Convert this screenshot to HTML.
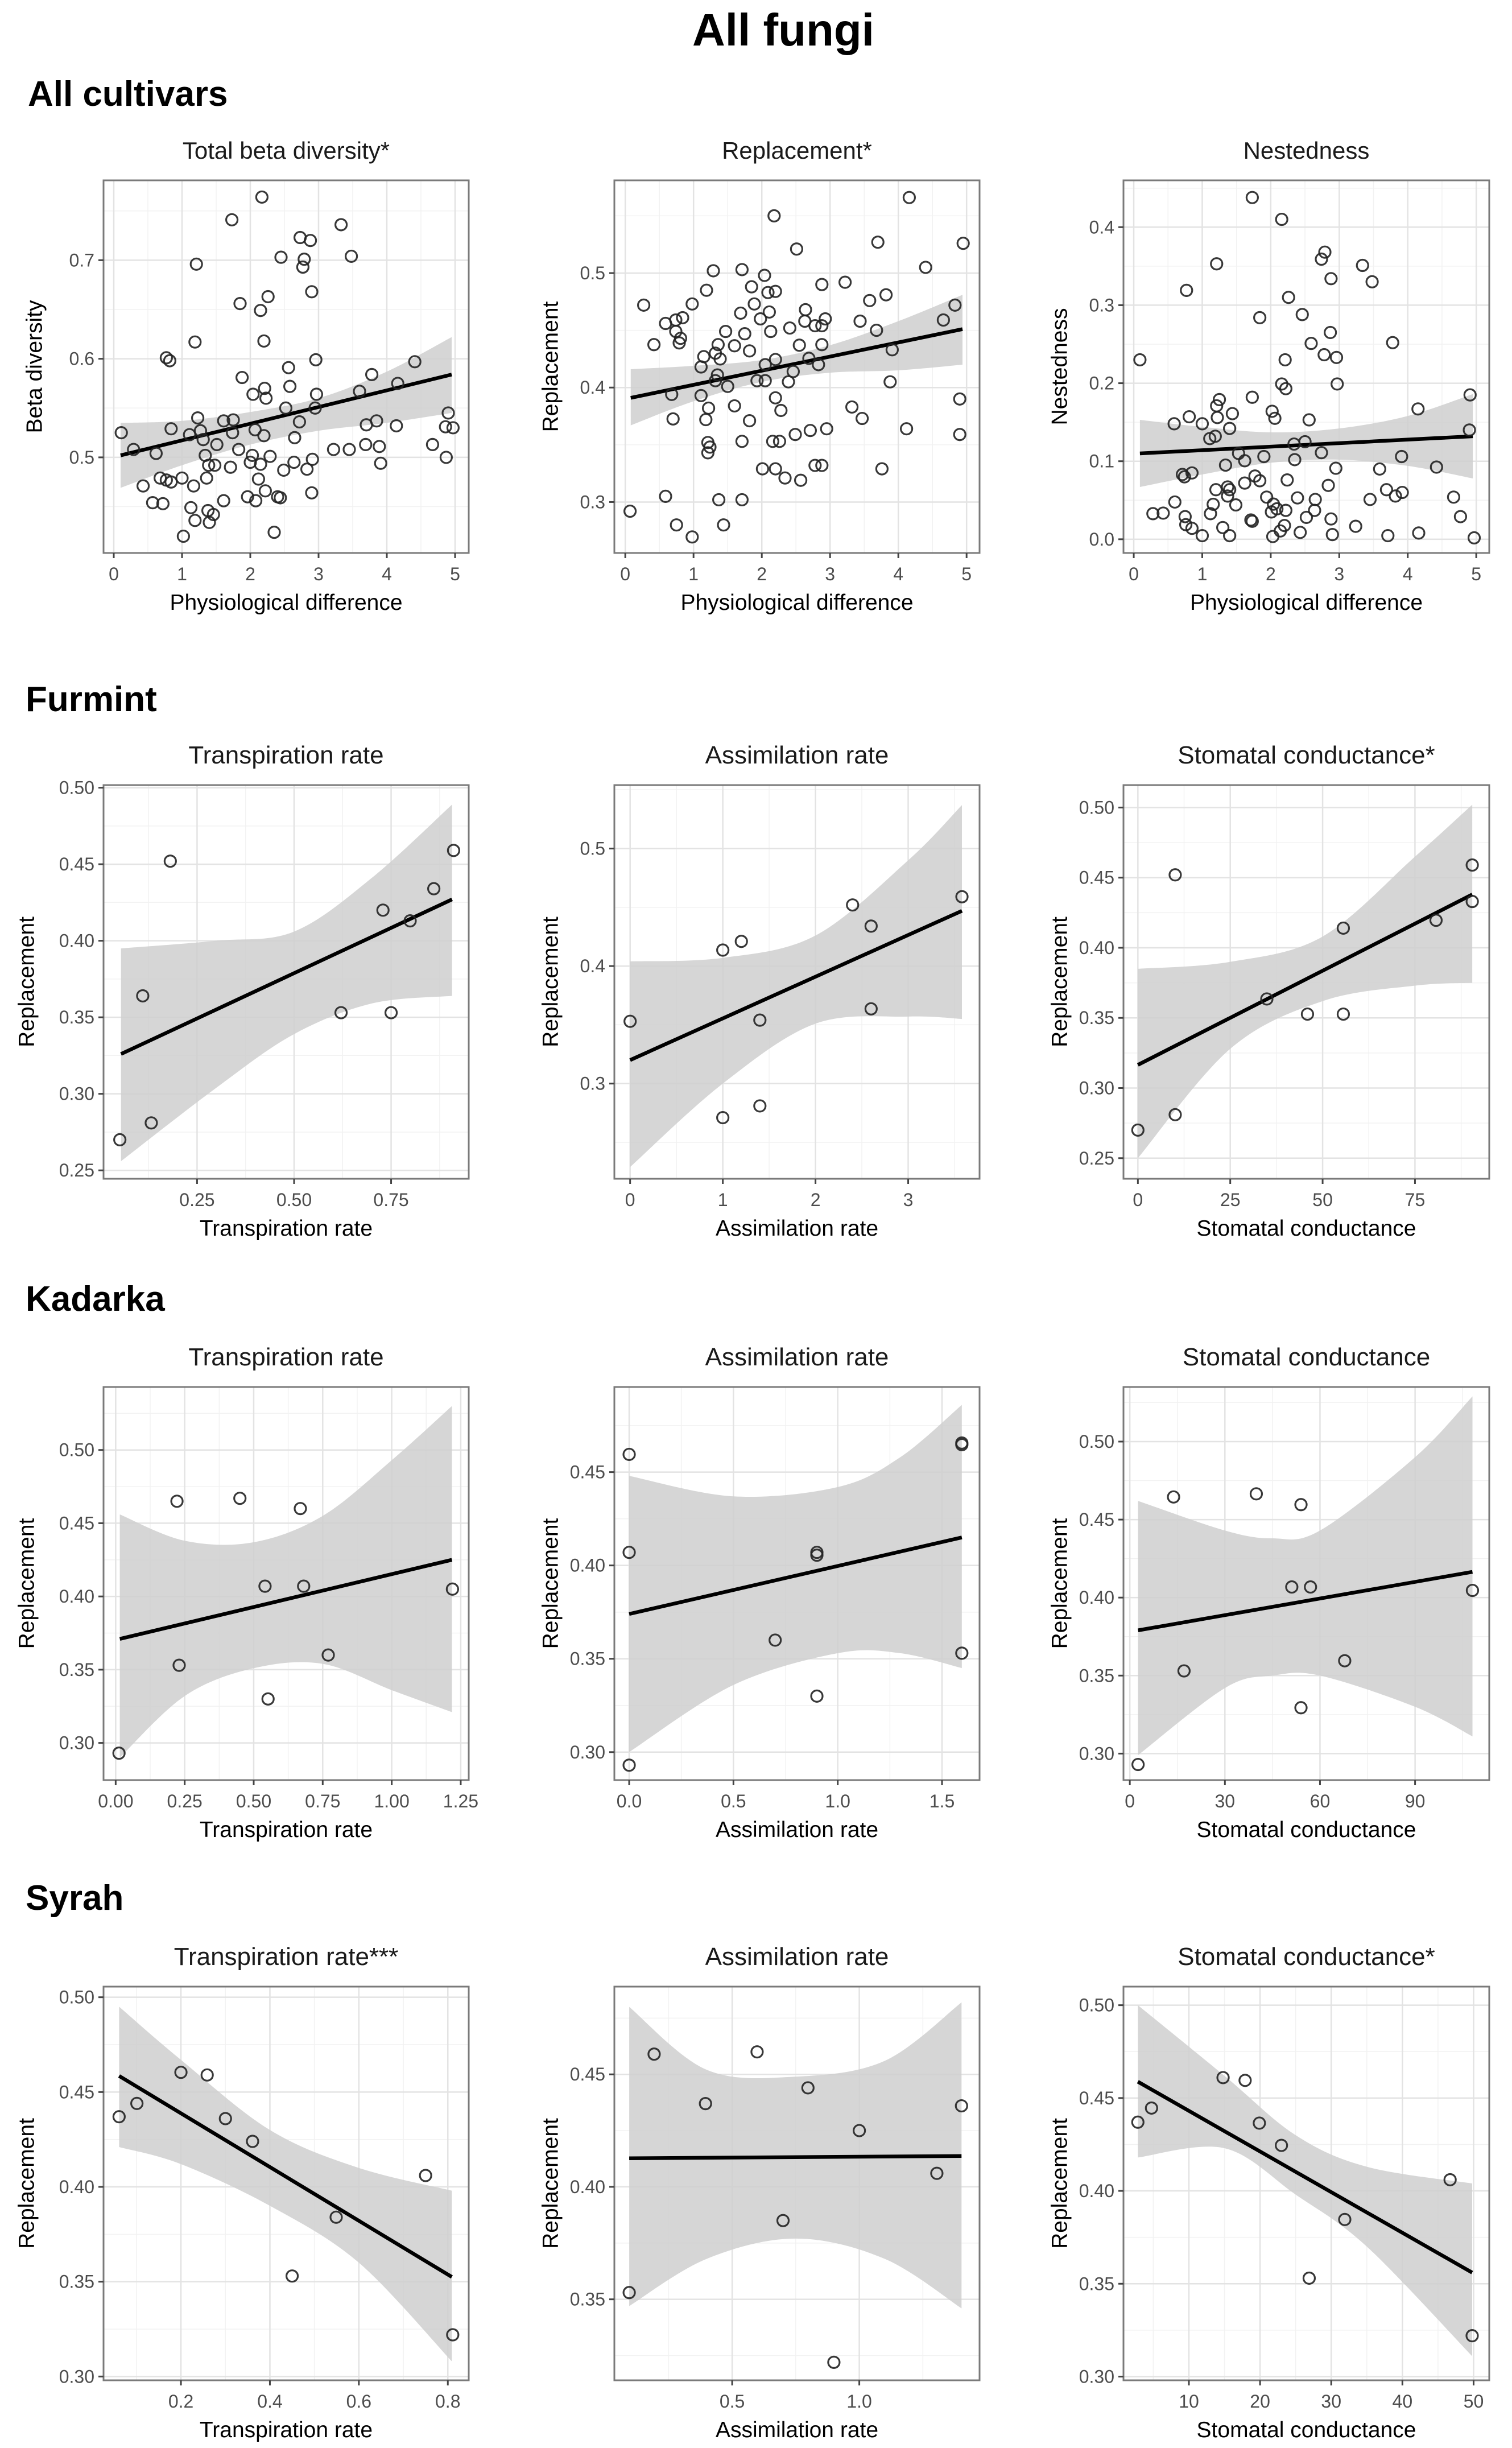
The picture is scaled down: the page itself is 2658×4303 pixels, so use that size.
<!DOCTYPE html>
<html><head><meta charset="utf-8">
<style>
html,body{margin:0;padding:0;background:#fff;}
svg{display:block;font-family:"Liberation Sans",Arial,sans-serif;}
</style></head>
<body>
<svg id="fig" xmlns="http://www.w3.org/2000/svg" width="2658" height="4303" viewBox="0 0 2658 4303">
<rect x="0" y="0" width="2658" height="4303" fill="#fff"/>
<text x="1377" y="80" text-anchor="middle" font-size="80" font-weight="bold" fill="#000">All fungi</text>
<text x="49" y="186" font-size="62" font-weight="bold" fill="#000">All cultivars</text>
<text x="45" y="1250" font-size="62" font-weight="bold" fill="#000">Furmint</text>
<text x="45" y="2304" font-size="62" font-weight="bold" fill="#000">Kadarka</text>
<text x="45" y="3357" font-size="62" font-weight="bold" fill="#000">Syrah</text>
</svg>
<script>
// ---------- All cultivars: total beta diversity ----------
const p1X = [2.17,1.73,3.33,2.73,2.88,2.45,3.48,1.21,2.79,2.77,2.90,2.26,1.85,2.15,1.19,2.20,0.77,0.82,2.96,4.41,2.56,1.88,3.78,2.58,2.21,2.04,2.23,2.97,3.60,4.16,2.52,2.95,4.90,1.23,1.61,1.75,2.72,3.70,3.85,4.14,4.86,4.97,0.11,0.84,1.11,1.27,1.74,2.07,2.20,2.65,1.31,1.51,0.29,1.83,3.22,3.45,3.69,3.89,4.67,0.62,1.34,2.03,2.29,4.87,2.91,2.00,2.15,1.39,1.48,2.64,3.91,1.71,2.49,2.83,0.68,0.77,0.84,1.00,1.36,2.12,0.43,1.17,2.22,2.90,1.61,0.57,0.72,1.96,2.08,2.40,2.44,1.13,1.19,1.38,1.46,1.40,1.02,2.35];
const p1Y = [.764,.741,.736,.723,.720,.703,.704,.696,.701,.693,.668,.663,.656,.649,.617,.618,.601,.598,.599,.597,.591,.581,.584,.572,.570,.564,.560,.564,.567,.575,.550,.550,.545,.540,.537,.538,.536,.533,.537,.532,.531,.530,.525,.529,.523,.527,.525,.528,.522,.520,.518,.513,.508,.508,.508,.508,.513,.511,.513,.504,.502,.502,.501,.500,.498,.495,.493,.492,.492,.495,.494,.490,.487,.488,.479,.477,.475,.479,.479,.478,.471,.471,.466,.464,.456,.454,.453,.460,.456,.460,.459,.449,.436,.446,.442,.434,.420,.424];
const p1FitX = [0.1,4.95];
const p1FitY = [0.502,0.584];
const p1BandX = [0.1,1,2,3,4,4.95];
const p1BandLo = [0.469,0.492,0.513,0.527,0.535,0.545];
const p1BandHi = [0.535,0.537,0.546,0.560,0.587,0.622];
const p1XTicks = [0,1,2,3,4,5];
const p1XLabels = ["0","1","2","3","4","5"];
const p1YTicks = [0.5,0.6,0.7];
const p1YLabels = ["0.5","0.6","0.7"];

// ---------- All cultivars: replacement ----------
const p2X = [2.18,4.16,2.51,3.70,4.95,4.40,1.29,1.71,2.04,2.88,3.22,1.85,1.19,2.09,2.20,0.27,0.98,1.89,3.58,3.82,4.83,0.59,0.74,0.84,1.69,2.11,2.64,1.98,2.63,2.78,2.88,2.93,3.44,4.66,0.74,1.47,1.75,2.13,2.41,3.68,0.42,0.81,0.79,1.36,1.60,1.82,2.55,2.88,3.91,1.15,1.32,1.39,2.20,2.69,2.05,2.83,1.11,1.35,2.46,1.32,1.50,1.93,2.05,2.39,3.88,0.68,1.11,1.22,1.60,2.20,2.28,3.32,4.90,0.70,1.18,1.82,3.47,2.49,2.71,2.95,4.12,4.90,1.21,1.24,1.21,1.71,2.16,2.26,2.01,2.20,2.34,2.57,2.78,2.88,3.76,0.59,1.37,1.71,0.07,0.75,1.44,0.98];
const p2Y = [.550,.566,.521,.527,.526,.505,.502,.503,.498,.490,.492,.488,.485,.483,.484,.472,.473,.473,.476,.481,.472,.456,.459,.461,.465,.466,.468,.460,.458,.454,.454,.460,.458,.459,.449,.449,.447,.449,.452,.450,.4375,.443,.439,.4375,.4365,.432,.437,.4375,.433,.427,.430,.425,.4245,.4255,.420,.420,.418,.411,.414,.406,.401,.406,.406,.405,.405,.394,.393,.382,.384,.391,.380,.383,.390,.3726,.372,.371,.373,.359,.3625,.364,.364,.359,.352,.348,.343,.353,.353,.353,.329,.329,.321,.319,.332,.332,.329,.305,.302,.302,.292,.280,.280,.2695];
const p2FitX = [0.08,4.94];
const p2FitY = [0.391,0.451];
const p2BandX = [0.08,1,2,3,4,4.94];
const p2BandLo = [0.367,0.388,0.405,0.413,0.415,0.420];
const p2BandHi = [0.416,0.419,0.424,0.437,0.458,0.481];
const p2XTicks = [0,1,2,3,4,5];
const p2XLabels = ["0","1","2","3","4","5"];
const p2YTicks = [0.3,0.4,0.5];
const p2YLabels = ["0.3","0.4","0.5"];

// ---------- All cultivars: nestedness ----------
const p3X = [1.73,2.16,1.21,2.74,2.79,3.34,3.48,2.88,0.77,2.26,2.46,1.84,2.87,3.78,2.59,2.78,2.96,0.09,2.21,2.97,2.16,2.22,4.91,1.73,1.25,1.21,4.15,2.02,1.44,0.81,1.22,2.06,0.59,1.00,2.56,1.40,4.90,1.11,1.19,2.34,2.50,1.53,2.74,1.90,3.91,1.62,2.35,1.34,2.95,3.59,4.42,0.71,0.74,0.85,1.77,1.84,2.24,1.62,1.37,1.40,2.84,1.20,3.69,3.82,3.92,1.37,1.49,0.60,1.16,2.39,2.65,1.94,3.45,4.67,0.28,0.43,1.12,0.75,2.04,2.09,2.01,2.22,2.64,2.52,1.71,1.73,2.88,4.77,0.76,0.85,1.30,2.20,2.14,3.24,1.00,1.40,2.03,2.43,2.90,3.71,4.16,4.97];
const p3Y = [.438,.410,.353,.359,.368,.351,.330,.334,.319,.310,.288,.284,.265,.252,.251,.2365,.233,.230,.230,.199,.199,.193,.185,.182,.179,.171,.167,.164,.161,.157,.156,.155,.148,.148,.153,.142,.140,.129,.132,.122,.125,.110,.111,.106,.106,.1006,.102,.095,.091,.090,.0925,.083,.080,.085,.081,.075,.076,.072,.067,.0635,.069,.0635,.0635,.0554,.060,.0554,.044,.0477,.0448,.053,.051,.054,.051,.054,.0328,.0335,.0328,.029,.045,.039,.035,.037,.037,.028,.0247,.023,.026,.029,.0187,.014,.015,.0176,.0106,.0166,.0046,.0046,.0035,.0088,.006,.0046,.008,.0018];
const p3FitX = [0.09,4.95];
const p3FitY = [0.110,0.132];
const p3BandX = [0.09,1,2,3,4,4.95];
const p3BandLo = [0.067,0.083,0.098,0.102,0.094,0.078];
const p3BandHi = [0.153,0.144,0.137,0.142,0.158,0.186];
const p3XTicks = [0,1,2,3,4,5];
const p3XLabels = ["0","1","2","3","4","5"];
const p3YTicks = [0,0.1,0.2,0.3,0.4];
const p3YLabels = ["0.0","0.1","0.2","0.3","0.4"];

// ---------- Furmint ----------
const f1X = [0.051,0.132,0.110,0.181,0.621,0.750,0.729,0.799,0.860,0.911];
const f1Y = [0.270,0.281,0.364,0.452,0.353,0.353,0.420,0.413,0.434,0.459];
const f1FitX = [0.054,0.907];
const f1FitY = [0.326,0.427];
const f1BandX = [0.054,0.3,0.5,0.7,0.907];
const f1BandLo = [0.256,0.304,0.339,0.359,0.364];
const f1BandHi = [0.395,0.400,0.406,0.441,0.489];
const f1XTicks = [0.25,0.5,0.75];
const f1XLabels = ["0.25","0.50","0.75"];
const f1YTicks = [0.25,0.30,0.35,0.40,0.45,0.50];
const f1YLabels = ["0.25","0.30","0.35","0.40","0.45","0.50"];

const f2X = [0,1.0,1.2,1.4,1.0,1.4,2.4,2.6,2.6,3.58];
const f2Y = [0.353,0.4136,0.421,0.354,0.271,0.281,0.452,0.434,0.3636,0.459];
const f2FitX = [0,3.58];
const f2FitY = [0.320,0.447];
const f2BandX = [0,1,2,3,3.58];
const f2BandLo = [0.229,0.300,0.351,0.357,0.355];
const f2BandHi = [0.404,0.407,0.426,0.490,0.537];
const f2XTicks = [0,1,2,3];
const f2XLabels = ["0","1","2","3"];
const f2YTicks = [0.3,0.4,0.5];
const f2YLabels = ["0.3","0.4","0.5"];

const f3X = [0,10.1,10.1,34.9,45.9,55.6,55.6,80.7,90.5,90.5];
const f3Y = [0.270,0.281,0.452,0.3635,0.3527,0.3527,0.414,0.4196,0.459,0.433];
const f3FitX = [0,90.5];
const f3FitY = [0.3165,0.438];
const f3BandX = [0,25,50,75,90.5];
const f3BandLo = [0.250,0.328,0.362,0.373,0.375];
const f3BandHi = [0.385,0.390,0.408,0.465,0.502];
const f3XTicks = [0,25,50,75];
const f3XLabels = ["0","25","50","75"];
const f3YTicks = [0.25,0.30,0.35,0.40,0.45,0.50];
const f3YLabels = ["0.25","0.30","0.35","0.40","0.45","0.50"];

// ---------- Kadarka ----------
const k1X = [0.012,0.222,0.23,0.45,0.541,0.552,0.669,0.681,0.77,1.22];
const k1Y = [0.293,0.465,0.353,0.467,0.407,0.330,0.460,0.407,0.360,0.405];
const k1FitX = [0.015,1.218];
const k1FitY = [0.371,0.425];
const k1BandX = [0.015,0.25,0.5,0.75,1.0,1.218];
const k1BandLo = [0.290,0.332,0.351,0.354,0.336,0.321];
const k1BandHi = [0.456,0.438,0.437,0.455,0.493,0.530];
const k1XTicks = [0,0.25,0.5,0.75,1.0,1.25];
const k1XLabels = ["0.00","0.25","0.50","0.75","1.00","1.25"];
const k1YTicks = [0.30,0.35,0.40,0.45,0.50];
const k1YLabels = ["0.30","0.35","0.40","0.45","0.50"];

const k2X = [0,0,0.9,0.9,0.70,0.9,1.595,1.595,1.595,0];
const k2Y = [0.4595,0.407,0.407,0.4055,0.360,0.330,0.4656,0.4647,0.353,0.293];
const k2FitX = [0,1.595];
const k2FitY = [0.374,0.415];
const k2BandX = [0,0.5,1.0,1.3,1.595];
const k2BandLo = [0.300,0.336,0.353,0.353,0.345];
const k2BandHi = [0.448,0.437,0.442,0.458,0.486];
const k2XTicks = [0,0.5,1.0,1.5];
const k2XLabels = ["0.0","0.5","1.0","1.5"];
const k2YTicks = [0.30,0.35,0.40,0.45];
const k2YLabels = ["0.30","0.35","0.40","0.45"];

const k3X = [2.6,13.8,17.1,39.9,54.0,51.1,57.0,67.8,54.0,108.1];
const k3Y = [0.293,0.4645,0.353,0.4665,0.4596,0.4068,0.4068,0.3595,0.3294,0.4046];
const k3FitX = [2.6,108.1];
const k3FitY = [0.379,0.4165];
const k3BandX = [2.6,30,45,60,90,108.1];
const k3BandLo = [0.299,0.342,0.350,0.350,0.330,0.311];
const k3BandHi = [0.462,0.443,0.438,0.443,0.490,0.529];
const k3XTicks = [0,30,60,90];
const k3XLabels = ["0","30","60","90"];
const k3YTicks = [0.30,0.35,0.40,0.45,0.50];
const k3YLabels = ["0.30","0.35","0.40","0.45","0.50"];

// ---------- Syrah ----------
const s1X = [0.061,0.101,0.2,0.259,0.30,0.361,0.45,0.549,0.750,0.811];
const s1Y = [0.437,0.444,0.4604,0.459,0.436,0.424,0.353,0.384,0.406,0.322];
const s1FitX = [0.061,0.809];
const s1FitY = [0.4585,0.3525];
const s1BandX = [0.061,0.2,0.4,0.6,0.809];
const s1BandLo = [0.421,0.412,0.390,0.360,0.308];
const s1BandHi = [0.495,0.467,0.430,0.410,0.398];
const s1XTicks = [0.2,0.4,0.6,0.8];
const s1XLabels = ["0.2","0.4","0.6","0.8"];
const s1YTicks = [0.30,0.35,0.40,0.45,0.50];
const s1YLabels = ["0.30","0.35","0.40","0.45","0.50"];

const s2X = [0.095,0.193,0.395,0.598,0.70,0.798,0.90,1.0,1.305,1.402];
const s2Y = [0.353,0.459,0.437,0.460,0.385,0.444,0.322,0.425,0.406,0.436];
const s2FitX = [0.095,1.402];
const s2FitY = [0.4127,0.4137];
const s2BandX = [0.095,0.4,0.75,1.1,1.402];
const s2BandLo = [0.347,0.368,0.377,0.368,0.346];
const s2BandHi = [0.480,0.452,0.449,0.456,0.482];
const s2XTicks = [0.5,1.0];
const s2XLabels = ["0.5","1.0"];
const s2YTicks = [0.35,0.40,0.45];
const s2YLabels = ["0.35","0.40","0.45"];

const s3X = [2.83,4.75,14.8,17.9,19.9,23.0,26.9,31.9,46.7,49.8];
const s3Y = [0.437,0.4446,0.461,0.4595,0.4365,0.4245,0.353,0.3846,0.406,0.322];
const s3FitX = [2.83,49.8];
const s3FitY = [0.4588,0.3560];
const s3BandX = [2.83,15,25,35,49.8];
const s3BandLo = [0.418,0.423,0.398,0.370,0.311];
const s3BandHi = [0.500,0.462,0.430,0.413,0.404];
const s3XTicks = [10,20,30,40,50];
const s3XLabels = ["10","20","30","40","50"];
const s3YTicks = [0.30,0.35,0.40,0.45,0.50];
const s3YLabels = ["0.30","0.35","0.40","0.45","0.50"];

// ---------- layout ----------
const ROWS = [{t:317,b:972},{t:1380,b:2072},{t:2438,b:3129},{t:3492,b:4184}];
const COLS = [{l:182,r:824,yt:46},{l:1080,r:1722,yt:967},{l:1975,r:2618,yt:1862}];

const panels = [
 {id:"total-beta",row:0,col:0,title:"Total beta diversity*",xt:"Physiological difference",yt:"Beta diversity",xlim:[-0.15,5.2],ylim:[0.403,0.781],X:p1X,Y:p1Y,fx:p1FitX,fy:p1FitY,bx:p1BandX,blo:p1BandLo,bhi:p1BandHi,xtk:p1XTicks,xl:p1XLabels,ytk:p1YTicks,yl:p1YLabels},
 {id:"replacement-all",row:0,col:1,title:"Replacement*",xt:"Physiological difference",yt:"Replacement",xlim:[-0.16,5.19],ylim:[0.2555,0.581],X:p2X,Y:p2Y,fx:p2FitX,fy:p2FitY,bx:p2BandX,blo:p2BandLo,bhi:p2BandHi,xtk:p2XTicks,xl:p2XLabels,ytk:p2YTicks,yl:p2YLabels},
 {id:"nestedness-all",row:0,col:2,title:"Nestedness",xt:"Physiological difference",yt:"Nestedness",xlim:[-0.15,5.19],ylim:[-0.0176,0.46],X:p3X,Y:p3Y,fx:p3FitX,fy:p3FitY,bx:p3BandX,blo:p3BandLo,bhi:p3BandHi,xtk:p3XTicks,xl:p3XLabels,ytk:p3YTicks,yl:p3YLabels},
 {id:"furmint-transpiration",row:1,col:0,title:"Transpiration rate",xt:"Transpiration rate",yt:"Replacement",xlim:[0.009,0.950],ylim:[0.2445,0.5017],X:f1X,Y:f1Y,fx:f1FitX,fy:f1FitY,bx:f1BandX,blo:f1BandLo,bhi:f1BandHi,xtk:f1XTicks,xl:f1XLabels,ytk:f1YTicks,yl:f1YLabels},
 {id:"furmint-assimilation",row:1,col:1,title:"Assimilation rate",xt:"Assimilation rate",yt:"Replacement",xlim:[-0.17,3.77],ylim:[0.219,0.554],X:f2X,Y:f2Y,fx:f2FitX,fy:f2FitY,bx:f2BandX,blo:f2BandLo,bhi:f2BandHi,xtk:f2XTicks,xl:f2XLabels,ytk:f2YTicks,yl:f2YLabels},
 {id:"furmint-stomatal",row:1,col:2,title:"Stomatal conductance*",xt:"Stomatal conductance",yt:"Replacement",xlim:[-3.9,95.1],ylim:[0.2353,0.516],X:f3X,Y:f3Y,fx:f3FitX,fy:f3FitY,bx:f3BandX,blo:f3BandLo,bhi:f3BandHi,xtk:f3XTicks,xl:f3XLabels,ytk:f3YTicks,yl:f3YLabels},
 {id:"kadarka-transpiration",row:2,col:0,title:"Transpiration rate",xt:"Transpiration rate",yt:"Replacement",xlim:[-0.044,1.279],ylim:[0.2746,0.543],X:k1X,Y:k1Y,fx:k1FitX,fy:k1FitY,bx:k1BandX,blo:k1BandLo,bhi:k1BandHi,xtk:k1XTicks,xl:k1XLabels,ytk:k1YTicks,yl:k1YLabels},
 {id:"kadarka-assimilation",row:2,col:1,title:"Assimilation rate",xt:"Assimilation rate",yt:"Replacement",xlim:[-0.071,1.68],ylim:[0.285,0.4956],X:k2X,Y:k2Y,fx:k2FitX,fy:k2FitY,bx:k2BandX,blo:k2BandLo,bhi:k2BandHi,xtk:k2XTicks,xl:k2XLabels,ytk:k2YTicks,yl:k2YLabels},
 {id:"kadarka-stomatal",row:2,col:2,title:"Stomatal conductance",xt:"Stomatal conductance",yt:"Replacement",xlim:[-2.0,113.4],ylim:[0.283,0.535],X:k3X,Y:k3Y,fx:k3FitX,fy:k3FitY,bx:k3BandX,blo:k3BandLo,bhi:k3BandHi,xtk:k3XTicks,xl:k3XLabels,ytk:k3YTicks,yl:k3YLabels},
 {id:"syrah-transpiration",row:3,col:0,title:"Transpiration rate***",xt:"Transpiration rate",yt:"Replacement",xlim:[0.026,0.847],ylim:[0.298,0.5056],X:s1X,Y:s1Y,fx:s1FitX,fy:s1FitY,bx:s1BandX,blo:s1BandLo,bhi:s1BandHi,xtk:s1XTicks,xl:s1XLabels,ytk:s1YTicks,yl:s1YLabels},
 {id:"syrah-assimilation",row:3,col:1,title:"Assimilation rate",xt:"Assimilation rate",yt:"Replacement",xlim:[0.0366,1.473],ylim:[0.314,0.489],X:s2X,Y:s2Y,fx:s2FitX,fy:s2FitY,bx:s2BandX,blo:s2BandLo,bhi:s2BandHi,xtk:s2XTicks,xl:s2XLabels,ytk:s2YTicks,yl:s2YLabels},
 {id:"syrah-stomatal",row:3,col:2,title:"Stomatal conductance*",xt:"Stomatal conductance",yt:"Replacement",xlim:[0.81,52.2],ylim:[0.298,0.51],X:s3X,Y:s3Y,fx:s3FitX,fy:s3FitY,bx:s3BandX,blo:s3BandLo,bhi:s3BandHi,xtk:s3XTicks,xl:s3XLabels,ytk:s3YTicks,yl:s3YLabels}
];

const NS = "http://www.w3.org/2000/svg";
const svg = document.getElementById("fig");
function mk(tag, attrs, parent){
  const e = document.createElementNS(NS, tag);
  for (const k in attrs) e.setAttribute(k, attrs[k]);
  parent.appendChild(e);
  return e;
}
function smoothPath(pts){
  let d = "";
  for (let i=0;i<pts.length-1;i++){
    const p0 = pts[i-1]||pts[i], p1 = pts[i], p2 = pts[i+1], p3 = pts[i+2]||pts[i+1];
    const c1 = [p1[0]+(p2[0]-p0[0])/6, p1[1]+(p2[1]-p0[1])/6];
    const c2 = [p2[0]-(p3[0]-p1[0])/6, p2[1]-(p3[1]-p1[1])/6];
    d += " C"+c1[0].toFixed(1)+","+c1[1].toFixed(1)+" "+c2[0].toFixed(1)+","+c2[1].toFixed(1)+" "+p2[0].toFixed(1)+","+p2[1].toFixed(1);
  }
  return d;
}
function minors(tk, lim){
  const out = [];
  if (tk.length < 2) return out;
  const step = tk[1]-tk[0];
  const cand = [tk[0]-step/2];
  for (let i=0;i<tk.length-1;i++) cand.push((tk[i]+tk[i+1])/2);
  cand.push(tk[tk.length-1]+step/2);
  cand.forEach(v=>{ if (v>lim[0] && v<lim[1]) out.push(v); });
  return out;
}

panels.forEach(p=>{
  const R = ROWS[p.row], C = COLS[p.col];
  const L=C.l, Rr=C.r, T=R.t, B=R.b;
  const sx = v => L + (v-p.xlim[0])/(p.xlim[1]-p.xlim[0])*(Rr-L);
  const sy = v => B - (v-p.ylim[0])/(p.ylim[1]-p.ylim[0])*(B-T);
  const g = mk("g", {}, svg);
  
  
  const clipId = "clip-"+p.id;
  const cp = mk("clipPath", {id:clipId}, g);
  mk("rect", {x:L, y:T, width:Rr-L, height:B-T}, cp);

  const title = mk("text", {x:(L+Rr)/2, y:T-38, "text-anchor":"middle", "font-size":(p.row===0?42:44), fill:"#1a1a1a"}, g);
  title.textContent = p.title;
  
  

  const grid = mk("g", {}, g);
  
  
  minors(p.xtk, p.xlim).forEach(v=>mk("line",{x1:sx(v),x2:sx(v),y1:T,y2:B,stroke:"#f2f2f2","stroke-width":1.5},grid));
  minors(p.ytk, p.ylim).forEach(v=>mk("line",{x1:L,x2:Rr,y1:sy(v),y2:sy(v),stroke:"#f2f2f2","stroke-width":1.5},grid));
  p.xtk.forEach(v=>mk("line",{x1:sx(v),x2:sx(v),y1:T,y2:B,stroke:"#e3e3e3","stroke-width":2.5},grid));
  p.ytk.forEach(v=>mk("line",{x1:L,x2:Rr,y1:sy(v),y2:sy(v),stroke:"#e3e3e3","stroke-width":2.5},grid));

  const up = p.bx.map((x,i)=>[sx(x), sy(p.bhi[i])]);
  const lo = p.bx.map((x,i)=>[sx(x), sy(p.blo[i])]).reverse();
  let d = "M"+up[0][0].toFixed(1)+","+up[0][1].toFixed(1)+smoothPath(up)+" L"+lo[0][0].toFixed(1)+","+lo[0][1].toFixed(1)+smoothPath(lo)+" Z";
  const band = mk("path", {d:d, fill:"#cfcfcf", "fill-opacity":0.85, "clip-path":"url(#"+clipId+")"}, g);
  
  

  const fit = mk("line", {x1:sx(p.fx[0]), y1:sy(p.fy[0]), x2:sx(p.fx[1]), y2:sy(p.fy[1]), stroke:"#000", "stroke-width":6.5, "stroke-linecap":"butt"}, g);
  
  

  p.X.forEach((x,i)=>{
    const c = mk("circle", {cx:sx(x), cy:sy(p.Y[i]), r:10, fill:"none", stroke:"#222", "stroke-width":3.2, "stroke-opacity":0.9}, g);
    
    
  });

  const border = mk("rect", {x:L, y:T, width:Rr-L, height:B-T, fill:"none", stroke:"#7a7a7a", "stroke-width":3}, g);
  
  

  p.xtk.forEach((v,i)=>{
    mk("line",{x1:sx(v),x2:sx(v),y1:B,y2:B+9,stroke:"#444","stroke-width":3},g);
    const t = mk("text",{x:sx(v), y:B+48, "text-anchor":"middle", "font-size":32, fill:"#4d4d4d"}, g);
    t.textContent = p.xl[i];
    
    
  });
  p.ytk.forEach((v,i)=>{
    mk("line",{x1:L-9,x2:L,y1:sy(v),y2:sy(v),stroke:"#444","stroke-width":3},g);
    const t = mk("text",{x:L-16, y:sy(v)+11, "text-anchor":"end", "font-size":32, fill:"#4d4d4d"}, g);
    t.textContent = p.yl[i];
    
    
  });
  const xt = mk("text",{x:(L+Rr)/2, y:B+100, "text-anchor":"middle", "font-size":39, fill:"#000"}, g);
  xt.textContent = p.xt;
  
  
  const yx = (p.row===0 && p.col===0) ? 60 : C.yt;
  const yt = mk("text",{x:yx, y:(T+B)/2, "text-anchor":"middle", "font-size":39, fill:"#000", transform:"rotate(-90 "+yx+" "+((T+B)/2)+")", dy:"0.35em"}, g);
  yt.textContent = p.yt;
  
  
});
</script>
</body></html>
